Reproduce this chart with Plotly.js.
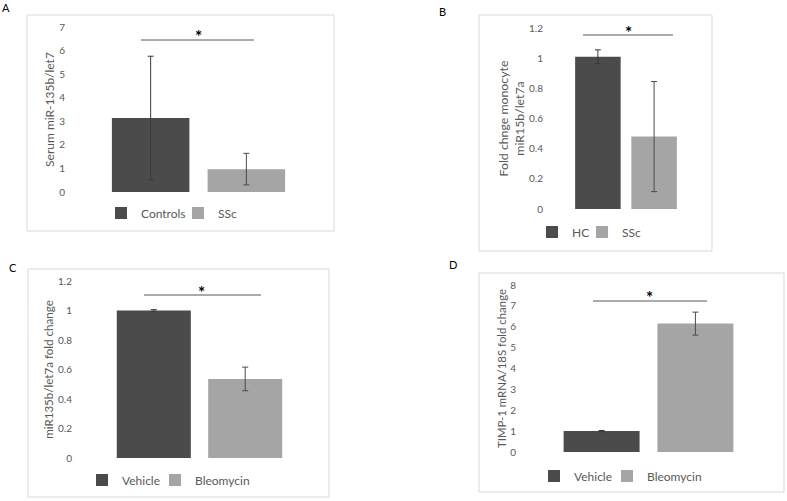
<!DOCTYPE html>
<html><head><meta charset="utf-8">
<script src="https://cdn.plot.ly/plotly-3.0.1.min.js"></script>
<style>html,body{margin:0;padding:0;background:#fff;}#chart{width:787px;height:501px;}</style>
</head><body><div id="chart"></div>
<script>
// ---- Data ----
const aCats = ["Controls", "SSc"];
const aVals = [3.14, 0.97];
const aErr  = [2.62, 0.67];

const bCats = ["HC", "SSc"];
const bVals = [1.01, 0.48];
const bErr  = [0.045, 0.365];

const cCats = ["Vehicle", "Bleomycin"];
const cVals = [1.00, 0.536];
const cErr  = [0.006, 0.08];

const dCats = ["Vehicle", "Bleomycin"];
const dVals = [1.00, 6.15];
const dErr  = [0.03, 0.55];

const panelLetters = ["A", "B", "C", "D"];
const yTitles = [
  "Serum miR-135b/let7",
  "Fold chnge monocyte<br>miR15b/let7a",
  "miR135b/let7a fold change",
  "TIMP-1 mRNA/18S fold change"
];
const yRanges = [[0, 7], [0, 1.2], [0, 1.2], [0, 8]];
const yDticks = [1, 0.2, 0.2, 1];

// ---- Layout geometry (pixels) ----
const W = 787, H = 501;
const px = p => p / W;
const py = p => 1 - p / H;

const geom = [
  {xd: [102.8, 294.2], yd: [192, 27], tick: 65, tfs: 12, frame: [27, 15, 334, 231], letter: [6, 8],
   sig: [141, 254, 40], star: [198, 32], legText: [141, 218], legY: 213},
  {xd: [569.8, 682.2], yd: [209, 28], tick: 543, tfs: 12.3, frame: [479, 15, 712, 251], letter: [442, 12],
   sig: [583, 673, 35], star: [628, 28], legText: [572, 622], legY: 232},
  {xd: [108.1, 290.9], yd: [458, 281], tick: 72, tfs: 11.6, frame: [28, 269, 329, 497], letter: [13, 267],
   sig: [144, 261, 295], star: [202, 288], legText: [122, 195], legY: 480},
  {xd: [554.7, 742.3], yd: [452, 285], tick: 516, tfs: 11.4, frame: [479, 273, 784, 492], letter: [453, 264],
   sig: [593, 707, 301], star: [649, 293], legText: [574, 647], legY: 476}
];

const colors = ["#4b4b4b", "#a5a5a5"];
const errColors = ["#3a3a3a", "#4a4a4a"];
const FONT = "Lato, 'Open Sans', sans-serif";
const TXT = "#595959";

const sets = [
  [aCats, aVals, aErr],
  [bCats, bVals, bErr],
  [cCats, cVals, cErr],
  [dCats, dVals, dErr]
];

const traces = [];
const layout = {
  width: W, height: H,
  margin: {l: 0, r: 0, t: 0, b: 0},
  paper_bgcolor: "#ffffff", plot_bgcolor: "rgba(0,0,0,0)",
  showlegend: true,
  barmode: "group", bargap: 0, bargroupgap: 0.19,
  font: {family: FONT, color: TXT},
  shapes: [], annotations: []
};

sets.forEach((s, i) => {
  const n = i + 1;
  const xa = n === 1 ? "x" : "x" + n;
  const ya = n === 1 ? "y" : "y" + n;
  const g = geom[i];
  s[0].forEach((cat, j) => {
    const k = i * 2 + j;
    const lg = k === 0 ? "legend" : "legend" + (k + 1);
    traces.push({
      type: "bar", name: cat, x: [panelLetters[i]], y: [s[1][j]],
      xaxis: xa, yaxis: ya, legend: lg, showlegend: true,
      marker: {color: colors[j], line: {width: 0}},
      error_y: {type: "data", array: [s[2][j]], visible: true, color: errColors[j], thickness: 1, width: 3},
      hoverinfo: "skip"
    });
    layout[lg] = {
      visible: true,
      orientation: "h", x: px(g.legText[j] - 40), xanchor: "left", y: py(g.legY), yanchor: "middle",
      font: {size: 12, color: TXT, family: FONT}, bgcolor: "rgba(0,0,0,0)",
      itemwidth: 30, itemclick: false, itemdoubleclick: false
    };
  });
  const xKey = n === 1 ? "xaxis" : "xaxis" + n;
  const yKey = n === 1 ? "yaxis" : "yaxis" + n;
  layout[xKey] = {
    domain: [px(g.xd[0]), px(g.xd[1])], anchor: ya,
    showticklabels: false, showgrid: false, zeroline: false, showline: false, ticks: "",
    fixedrange: true
  };
  layout[yKey] = {
    domain: [py(g.yd[0]), py(g.yd[1])], anchor: "free", position: px(g.tick),
    range: yRanges[i], dtick: yDticks[i], tick0: 0,
    showgrid: false, zeroline: false, showline: false, ticks: "",
    tickfont: {size: 10, color: TXT, family: FONT},
    title: {text: yTitles[i], font: {size: g.tfs, color: TXT, family: FONT}, standoff: 0},
    automargin: false, fixedrange: true
  };
  // frame
  layout.shapes.push({type: "rect", xref: "paper", yref: "paper",
    x0: px(g.frame[0]), y0: py(g.frame[1]), x1: px(g.frame[2]), y1: py(g.frame[3]),
    line: {color: "#d9d9d9", width: 1}, layer: "below"});
  // significance line
  layout.shapes.push({type: "line", xref: "paper", yref: "paper",
    x0: px(g.sig[0]), x1: px(g.sig[1]), y0: py(g.sig[2]), y1: py(g.sig[2]),
    line: {color: "#595959", width: 1}});
  // star
  layout.annotations.push({xref: "paper", yref: "paper", x: px(g.star[0]), y: py(g.star[1] + 4),
    text: "<b>*</b>", showarrow: false, xanchor: "center", yanchor: "middle",
    font: {size: 17, color: "#000000", family: FONT}});
  // panel letter
  layout.annotations.push({xref: "paper", yref: "paper", x: px(g.letter[0]), y: py(g.letter[1]),
    text: panelLetters[i], showarrow: false, xanchor: "center", yanchor: "middle",
    font: {size: 11, color: "#000000", family: FONT}});
});

Plotly.newPlot("chart", traces, layout, {staticPlot: true, displayModeBar: false});
</script></body></html>
